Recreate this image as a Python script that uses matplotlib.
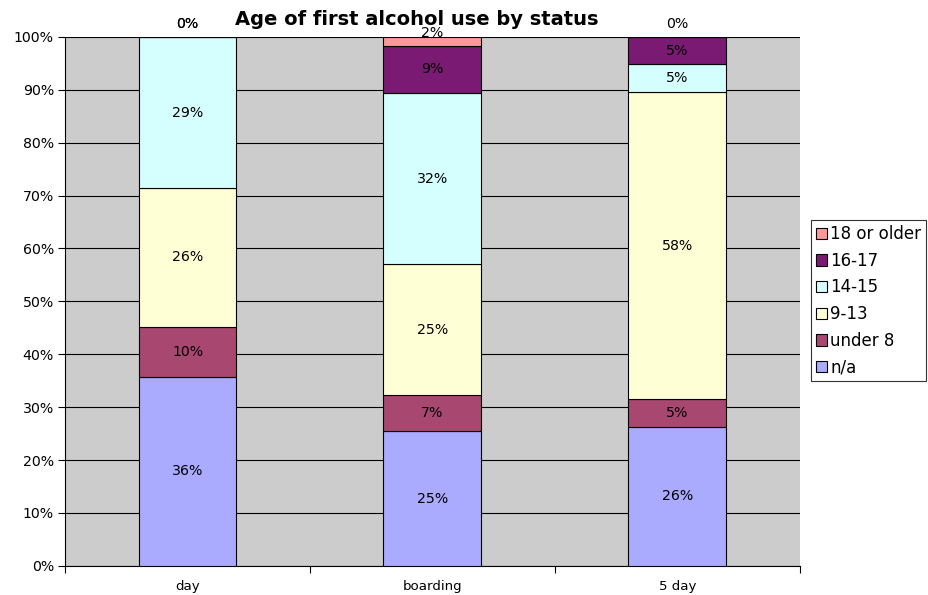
import matplotlib
matplotlib.use('Agg')
import matplotlib.pyplot as plt
import numpy as np

statuses = ['day', 'boarding', '5 day']
groups = ['n/a', 'under 8', '9-13', '14-15', '16-17', '18 or older']

# percent of respondents in each status
pct_na = [35.7, 25.4, 26.3]
pct_under8 = [9.5, 6.9, 5.3]
pct_9_13 = [26.2, 24.7, 57.9]
pct_14_15 = [28.6, 32.4, 5.3]
pct_16_17 = [0.0, 8.9, 5.2]
pct_18plus = [0.0, 1.7, 0.0]

series = [pct_na, pct_under8, pct_9_13, pct_14_15, pct_16_17, pct_18plus]
COLORS = ['#AAAAFF', '#A8476F', '#FFFFD5', '#D5FFFF', '#7B1A72', '#FF9999']

plt.rcParams['font.family'] = ['DejaVu Sans']

fig = plt.figure(figsize=(9.29, 5.95), dpi=100)
ax = fig.add_axes([0.070, 0.049, 0.791, 0.889])
ax.set_facecolor('#CCCCCC')

x = np.arange(len(statuses))
bottom = np.zeros(len(statuses))
for vals, color, label in zip(series, COLORS, groups):
    ax.bar(x, vals, width=0.4, bottom=bottom, color=color,
           edgecolor='black', linewidth=0.8, label=label, zorder=3)
    for xi, v, b0 in zip(x, vals, bottom):
        txt = f'{v:.0f}%'
        if v < 3:
            dy = 9.5 if v == 0 else 6
            ax.annotate(txt, (xi, b0 + v / 2), xytext=(0, dy),
                        textcoords='offset points', ha='center', va='center',
                        fontsize=10.2, zorder=5, annotation_clip=False)
        else:
            ax.text(xi, b0 + v / 2, txt, ha='center', va='center',
                    fontsize=10.2, zorder=5)
    bottom = bottom + np.array(vals)

ax.set_xlim(-0.5, 2.5)
ax.set_ylim(0, 100)
ax.set_yticks(np.arange(0, 101, 10))
ax.set_yticklabels([f'{t}%' for t in range(0, 101, 10)], fontsize=10.2)
ax.yaxis.grid(True, color='black', linewidth=0.8, zorder=0)
ax.set_axisbelow(True)

ax.set_xticks(x)
ax.set_xticklabels(statuses, fontsize=9.6)
ax.tick_params(axis='x', which='major', length=0, pad=10)
ax.set_xticks([-0.5, 0.5, 1.5, 2.5], minor=True)
ax.tick_params(axis='x', which='minor', length=5, width=0.8)
ax.tick_params(axis='y', length=5, width=0.8, pad=3)

for side in ['top', 'right']:
    ax.spines[side].set_visible(False)
ax.spines['left'].set_linewidth(0.8)
ax.spines['bottom'].set_linewidth(0.8)

fig.text(0.449, 0.968, 'Age of first alcohol use by status', ha='center',
         va='center', fontsize=14, fontweight='bold')

handles, labels = ax.get_legend_handles_labels()
leg = fig.legend(handles[::-1], labels[::-1], loc='upper left',
                 bbox_to_anchor=(0.873, 0.630), fontsize=12, frameon=True,
                 fancybox=False, edgecolor='black', handlelength=0.65,
                 handleheight=0.65, handletextpad=0.2, borderpad=0.3,
                 labelspacing=0.52, borderaxespad=0)
leg.get_frame().set_linewidth(0.8)

plt.savefig('out.png', dpi=100)
